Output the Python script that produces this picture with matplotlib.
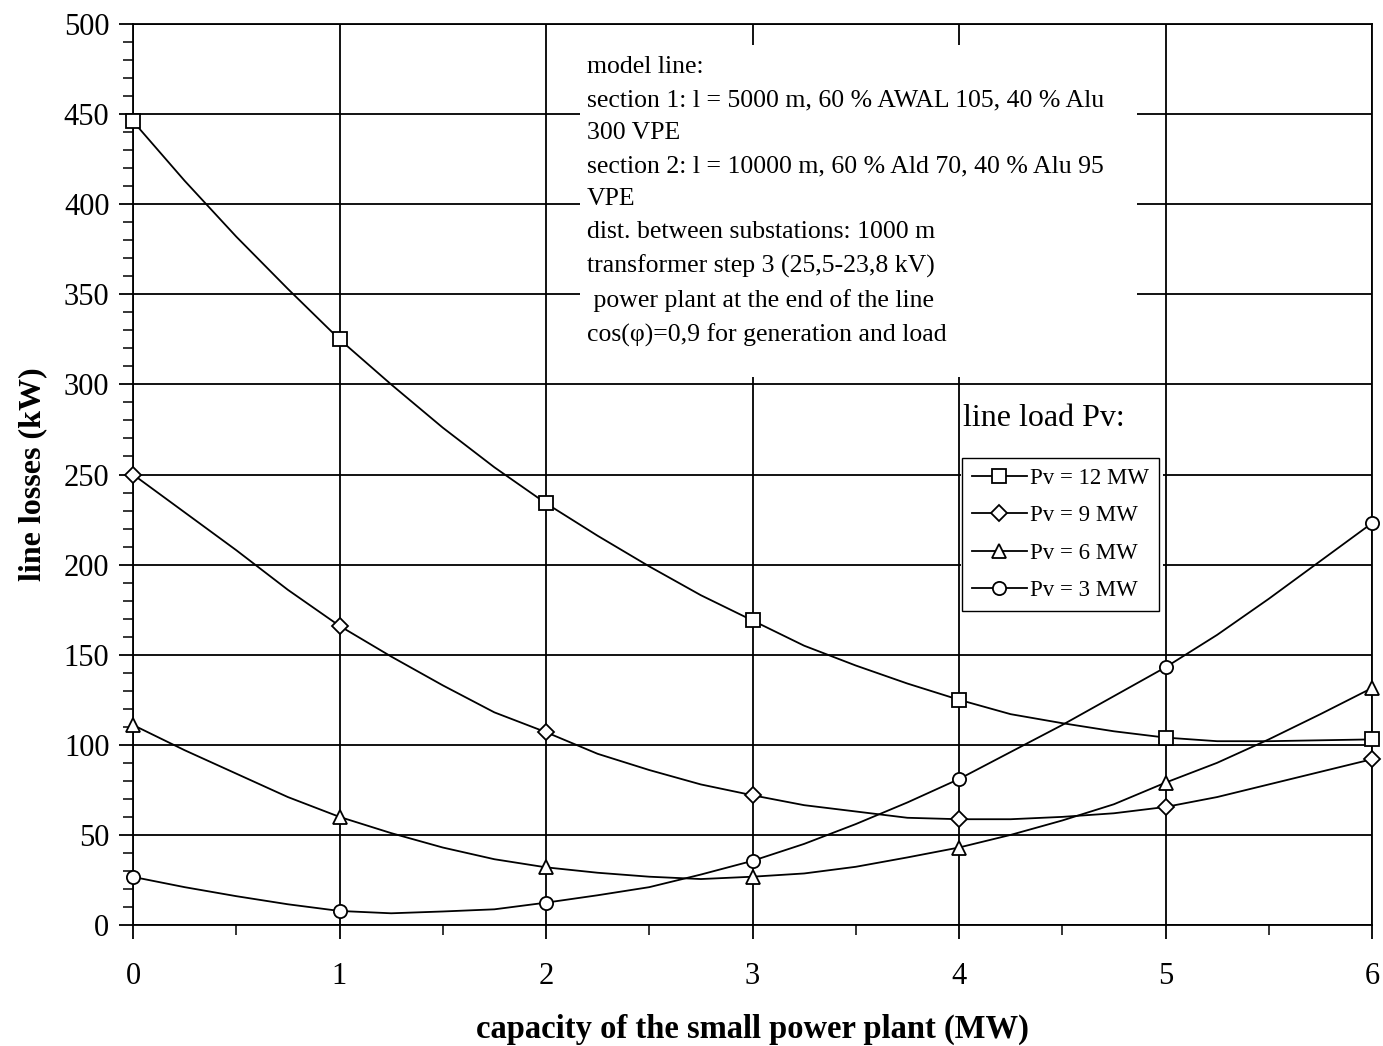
import matplotlib
matplotlib.use("Agg")
import matplotlib.pyplot as plt
from matplotlib.patches import Rectangle
from matplotlib.ticker import MultipleLocator

plt.rcParams["font.family"] = ["Liberation Serif", "DejaVu Serif"]

# capacity of the small power plant (MW), one point every 0.25 MW
capacity = [0, 0.25, 0.5, 0.75, 1, 1.25, 1.5, 1.75, 2, 2.25, 2.5, 2.75, 3,
            3.25, 3.5, 3.75, 4, 4.25, 4.5, 4.75, 5, 5.25, 5.5, 5.75, 6]

# line losses (kW) for each line load
losses_12mw = [446, 413, 382, 353, 325, 300, 276, 254, 234, 216, 199, 183, 169,
               155, 144, 134, 125, 117, 112, 107.5, 104, 102, 102, 102.5, 103]
losses_9mw = [250, 229, 208, 186, 166, 149, 133, 118, 107, 95, 86, 78, 72,
              66.5, 63, 59.5, 58.7, 58.7, 60, 62, 65.5, 71, 78, 85, 92]
losses_6mw = [111, 97, 84, 71, 60, 51, 43, 36.5, 32, 29, 26.8, 25.5, 26.8,
              28.6, 32.3, 37.5, 43, 50, 58, 67, 79, 90, 103, 117, 131.5]
losses_3mw = [26.7, 21, 16, 11.5, 7.8, 6.5, 7.5, 8.7, 12.4, 16.5, 21, 28, 35.6,
              45, 56, 68, 81, 96, 111, 127, 143, 161, 181, 202, 223]

series_labels = ["Pv = 12 MW", "Pv = 9 MW", "Pv = 6 MW", "Pv = 3 MW"]
series_markers = ["s", "D", "^", "o"]

note = ("model line:\n"
        "section 1: l = 5000 m, 60 % AWAL 105, 40 % Alu\n"
        "300 VPE\n"
        "section 2: l = 10000 m, 60 % Ald 70, 40 % Alu 95\n"
        "VPE\n"
        "dist. between substations: 1000 m\n"
        "transformer step 3 (25,5-23,8 kV)\n"
        " power plant at the end of the line\n"
        "cos(\u03c6)=0,9 for generation and load")

fig = plt.figure(figsize=(13.83, 10.46), dpi=100)
ax = fig.add_axes([133 / 1383, 1 - 925 / 1046, 1239 / 1383, 901 / 1046])

all_losses = [losses_12mw, losses_9mw, losses_6mw, losses_3mw]
for vals, lab, mk in zip(all_losses, series_labels, series_markers):
    ms = 8.5 if mk == "D" else 9.5
    ax.plot(capacity, vals, color="black", lw=1.3, marker=mk, markevery=4,
            markersize=ms, markerfacecolor="white", markeredgecolor="black",
            markeredgewidth=1.3, label=lab, clip_on=False, zorder=3)

ax.set_xlim(0, 6)
ax.set_ylim(0, 500)
ax.xaxis.set_major_locator(MultipleLocator(1))
ax.xaxis.set_minor_locator(MultipleLocator(0.5))
ax.yaxis.set_major_locator(MultipleLocator(50))
ax.yaxis.set_minor_locator(MultipleLocator(10))
ax.tick_params(which="major", length=10, width=1.3, labelsize=22, direction="out")
ax.tick_params(axis="y", which="major", pad=7)
ax.tick_params(axis="x", which="major", pad=17)
ax.tick_params(which="minor", length=7, width=1.1, direction="out")

ax.set_axisbelow(True)
ax.grid(True, which="major", color="black", lw=1.3)
for sp in ax.spines.values():
    sp.set_linewidth(1.3)

# white boxes hiding the grid behind the notes
ax.add_patch(Rectangle((2.165, 304), 2.697, 184.5, facecolor="white",
                       edgecolor="none", zorder=1))
ax.add_patch(Rectangle((4.01, 172), 0.98, 125, facecolor="white",
                       edgecolor="none", zorder=1))

ax.text(0.3664, 0.964, note, transform=ax.transAxes, fontsize=18.5,
        va="top", ha="left", linespacing=1.64, zorder=4)
ax.text(4.02, 289, "line load Pv:", fontsize=23, va="top", ha="left", zorder=4)

leg = ax.legend(loc="upper left", bbox_to_anchor=(962 / 1383, 1 - 458 / 1046),
                bbox_transform=fig.transFigure, borderaxespad=0,
                fontsize=16.5, handlelength=2.4, handletextpad=0.15,
                labelspacing=0.72, borderpad=0.42, fancybox=False,
                framealpha=1, edgecolor="black")
leg.get_frame().set_linewidth(1.0)
leg.set_zorder(5)

ax.set_xlabel("capacity of the small power plant (MW)", fontsize=23.5,
              fontweight="bold", labelpad=16)
ax.set_ylabel("line losses (kW)", fontsize=23, fontweight="bold", labelpad=12)

fig.savefig("out.png", dpi=100)
